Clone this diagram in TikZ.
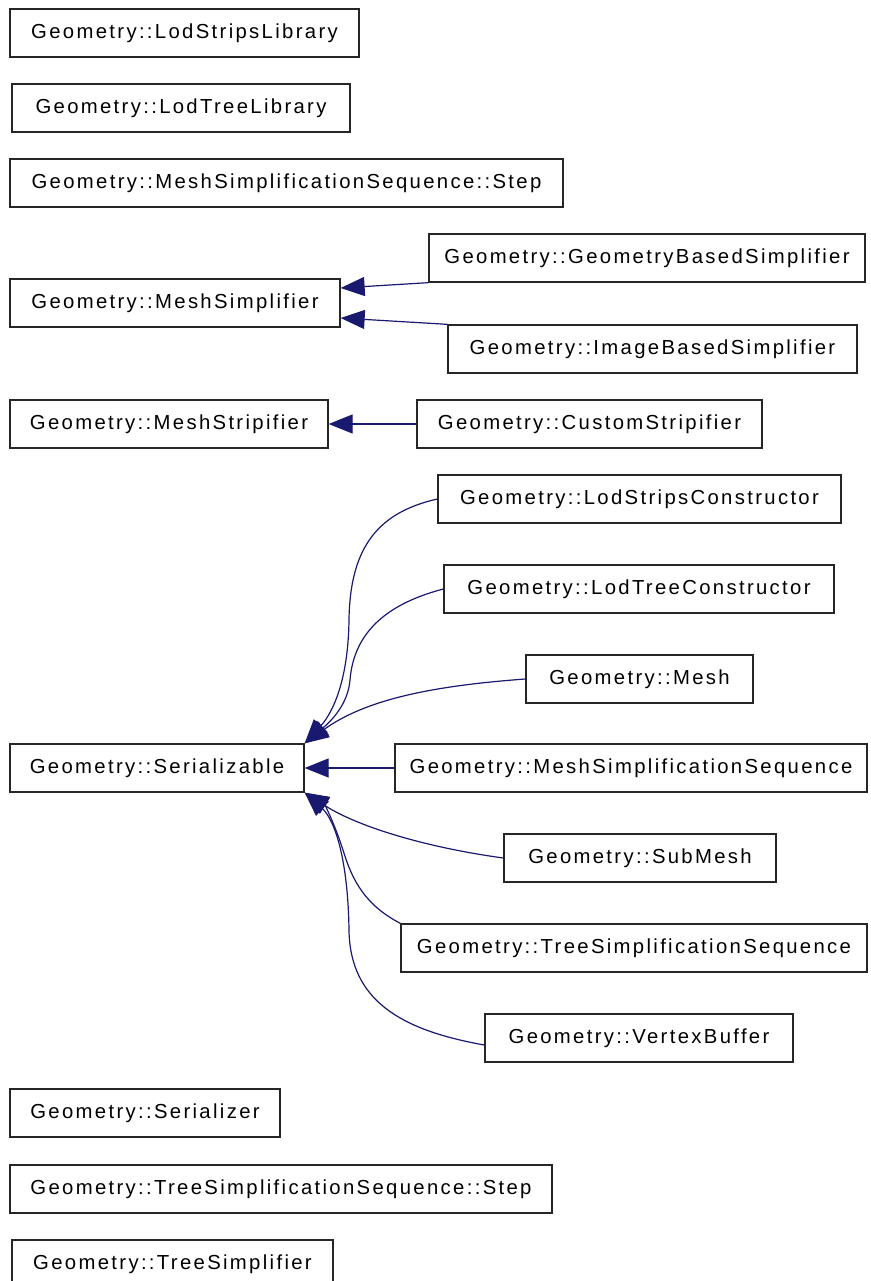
\documentclass[tikz,border=0pt]{standalone}
\usepackage{fontspec}
\setmainfont{Liberation Sans}[LetterSpace=11.5]
\usetikzlibrary{arrows.meta,calc}

\definecolor{edgeblue}{RGB}{25,25,112}

\tikzset{
  classbox/.style={draw=black!85, line width=1.3pt, minimum height=48pt,
    inner sep=0pt, font=\fontsize{20.3}{24}\selectfont},
  inherit/.style={draw=edgeblue, line width=1.2pt,
    -{Triangle[length=24pt,width=19pt]}},
}

\begin{document}
\begin{tikzpicture}[x=1pt,y=1pt]
  \fill [white] (0,0) rectangle (870,-1281);
  \useasboundingbox (0,0) rectangle (870,-1281);

  % classes without relations
  \node [classbox, minimum width=349pt] (lsl) at (184.5,-33) {Geometry::LodStripsLibrary};
  \node [classbox, minimum width=338pt] (ltl) at (181,-108) {Geometry::LodTreeLibrary};
  \node [classbox, minimum width=553pt] (mssstep) at (286.5,-183) {Geometry::MeshSimplificationSequence::Step};

  % simplifiers
  \node [classbox, minimum width=436pt] (gbs) at (647,-258) {Geometry::GeometryBasedSimplifier};
  \node [classbox, minimum width=330pt] (msimp) at (175,-303) {Geometry::MeshSimplifier};
  \node [classbox, minimum width=409pt] (ibs) at (652.5,-349) {Geometry::ImageBasedSimplifier};

  % stripifiers
  \node [classbox, minimum width=318pt] (mstrip) at (169,-424) {Geometry::MeshStripifier};
  \node [classbox, minimum width=345pt] (cstrip) at (589.5,-424) {Geometry::CustomStripifier};

  % serializable and its children
  \node [classbox, minimum width=294pt] (serial) at (157,-768) {Geometry::Serializable};
  \node [classbox, minimum width=403pt] (lsc) at (639.5,-499) {Geometry::LodStripsConstructor};
  \node [classbox, minimum width=390pt] (ltc) at (639,-589) {Geometry::LodTreeConstructor};
  \node [classbox, minimum width=227pt] (mesh) at (639.5,-679) {Geometry::Mesh};
  \node [classbox, minimum width=472pt] (mss) at (631,-768) {Geometry::MeshSimplificationSequence};
  \node [classbox, minimum width=272pt] (submesh) at (640,-858) {Geometry::SubMesh};
  \node [classbox, minimum width=466pt] (tss) at (634,-948) {Geometry::TreeSimplificationSequence};
  \node [classbox, minimum width=308pt] (vb) at (639,-1038) {Geometry::VertexBuffer};

  % the rest
  \node [classbox, minimum width=270pt] (serializer) at (145,-1113) {Geometry::Serializer};
  \node [classbox, minimum width=542pt] (tssstep) at (281,-1189) {Geometry::TreeSimplificationSequence::Step};
  \node [classbox, minimum width=321pt] (tsimp) at (172.5,-1264) {Geometry::TreeSimplifier};

  % inheritance
  \draw [inherit] (gbs.south west) -- ($(msimp.east)+(0,15)$);
  \draw [inherit] (ibs.north west) -- ($(msimp.east)+(0,-15)$);
  \draw [inherit] (cstrip.west) -- (mstrip.east);

  \draw [inherit]
    (lsc.west)
    .. controls (380,-512) and (350,-545) .. (349,-620)
    .. controls (348,-690) and (328,-718) .. (serial.north east);
  \draw [inherit]
    (ltc.west)
    .. controls (390,-603) and (354,-630) .. (350,-680)
    .. controls (348,-705) and (330,-722) .. (serial.north east);
  \draw [inherit]
    (mesh.west)
    .. controls (430,-686) and (365,-700) .. (serial.north east);
  \draw [inherit] (mss.west) -- (serial.east);
  \draw [inherit]
    (submesh.west)
    .. controls (430,-848) and (360,-828) .. (serial.south east);
  \draw [inherit]
    (tss.north west)
    .. controls (365,-905) and (352,-880) .. (343,-850)
    .. controls (335,-825) and (325,-805) .. (serial.south east);
  \draw [inherit]
    ($(vb.west)+(0,-7)$)
    .. controls (400,-1030) and (350,-1000) .. (349,-930)
    .. controls (348,-860) and (335,-820) .. (serial.south east);
\end{tikzpicture}
\end{document}
